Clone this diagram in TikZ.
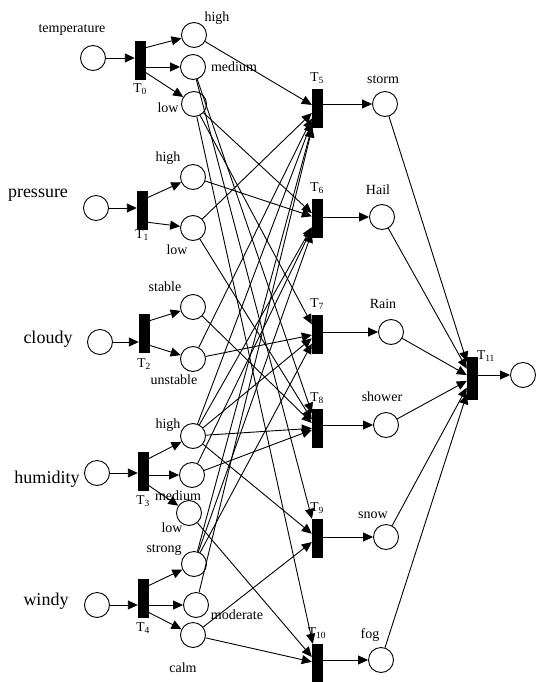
\documentclass[tikz,border=0pt]{standalone}
\usepackage{fontspec}
\setmainfont{Liberation Serif}
\usetikzlibrary{arrows.meta,positioning}
\tikzset{
  place/.style={draw,circle,minimum size=25pt,inner sep=0pt,line width=0.9pt},
  trans/.style={draw,fill=black,minimum width=10pt,minimum height=38pt,inner sep=0pt},
  lbl/.style={font=\fontsize{14}{15}\selectfont,inner sep=0pt},
  biglbl/.style={font=\fontsize{18}{20}\selectfont,inner sep=0pt},
  tlbl/.style={font=\fontsize{13.5}{14}\selectfont,inner sep=0pt},
  arc/.style={-{Triangle[length=10pt,width=9pt]},line width=0.9pt},
}

\begin{document}
\begin{tikzpicture}[x=1pt,y=-1pt]
    \useasboundingbox (0,0) rectangle (536,682);
    % input places and first transitions
    \node[place] (temp) at (93,58) {};
    \node[place] (pres) at (96,208) {};
    \node[place] (clou) at (100,342) {};
    \node[place] (humi) at (97,473) {};
    \node[place] (wind) at (97,605) {};
    \node[trans] (T0) at (140,60) {};
    \node[trans] (T1) at (142,210) {};
    \node[trans] (T2) at (144,333) {};
    \node[trans] (T3) at (143,471) {};
    \node[trans] (T4) at (143,598) {};
    % state places
    \node[place] (th) at (194,35) {};
    \node[place] (tm) at (193,67) {};
    \node[place] (tl) at (194,104) {};
    \node[place] (ph) at (193,177) {};
    \node[place] (pl) at (193,228) {};
    \node[place] (cs) at (193,307) {};
    \node[place] (cu) at (193,359) {};
    \node[place] (hh) at (193,436) {};
    \node[place] (hm) at (192,475) {};
    \node[place] (hl) at (189,513) {};
    \node[place] (ws) at (194,564) {};
    \node[place] (wm) at (196,605) {};
    \node[place] (wc) at (193,635) {};
    % weather transitions and places
    \node[trans] (T5) at (317,108) {};
    \node[trans] (T6) at (317,218) {};
    \node[trans] (T7) at (317,334) {};
    \node[trans] (T8) at (317,428) {};
    \node[trans] (T9) at (317,538) {};
    \node[trans] (T10) at (317,663) {};
    \node[place] (storm) at (385,104) {};
    \node[place] (hail) at (382,217) {};
    \node[place] (rain) at (391,332) {};
    \node[place] (shower) at (386,425) {};
    \node[place] (snow) at (386,537) {};
    \node[place] (fog) at (381,660) {};
    \node[trans,minimum height=42pt] (T11) at (472,378) {};
    \node[place] (out) at (523,375) {};

    % labels
    \node[lbl] (l-temp) at (72,30) {temperature};
    \node[biglbl] (l-pres) at (38,195) {pressure};
    \node[biglbl] (l-clou) at (48,339) {cloudy};
    \node[biglbl] (l-humi) at (47,479) {humidity};
    \node[biglbl] (l-wind) at (46,601) {windy};
    \node[lbl] (l-th) at (217,18) {high};
    \node[lbl] (l-tm) at (234,67) {medium};
    \node[lbl] (l-tl) at (168,108) {low};
    \node[lbl] (l-ph) at (168,158) {high};
    \node[lbl] (l-pl) at (177,250) {low};
    \node[lbl] (l-cs) at (165,287) {stable};
    \node[lbl] (l-cu) at (174,380) {unstable};
    \node[lbl] (l-hh) at (168,425) {high};
    \node[lbl] (l-hm) at (178,496) {medium};
    \node[lbl] (l-hl) at (172,528) {low};
    \node[lbl] (l-ws) at (164,550) {strong};
    \node[lbl] (l-wm) at (237,615) {moderate};
    \node[lbl] (l-wc) at (183,668) {calm};
    \node[lbl] (l-storm) at (383,80) {storm};
    \node[lbl] (l-hail) at (378,190) {Hail};
    \node[lbl] (l-rain) at (383,304) {Rain};
    \node[lbl] (l-shower) at (382,397) {shower};
    \node[lbl] (l-snow) at (373,515) {snow};
    \node[lbl] (l-fog) at (370,635) {fog};
    \node[tlbl,below=4pt of T0] (l-T0) {T\textsubscript{0}};
    \node[tlbl,below=0pt of T1] (l-T1) {T\textsubscript{1}};
    \node[tlbl,below=6pt of T2] (l-T2) {T\textsubscript{2}};
    \node[tlbl,below=5pt of T3] (l-T3) {T\textsubscript{3}};
    \node[tlbl,below=5pt of T4] (l-T4) {T\textsubscript{4}};
    \foreach \t in {5,...,10}
        \node[tlbl,above=5pt of T\t] (l-T\t) {T\textsubscript{\t}};
    \node[tlbl] (l-T11) at (486,356) {T\textsubscript{11}};

    % first level arcs
    \draw[arc] (temp) -- (T0.west |- temp);
    \draw[arc] (pres) -- (T1.west |- pres);
    \draw[arc] (clou) -- (T2.west |- clou);
    \draw[arc] (humi) -- (T3.west |- humi);
    \draw[arc] (wind) -- (T4.west |- wind);
    \draw[arc] ([yshift=-7pt]T0.north east) -- (th);
    \draw[arc] (T0.east |- tm) -- (tm);
    \draw[arc] ([yshift=7pt]T0.south east) -- (tl);
    \draw[arc] ([yshift=-7pt]T1.north east) -- (ph);
    \draw[arc] ([yshift=7pt]T1.south east) -- (pl);
    \draw[arc] ([yshift=-7pt]T2.north east) -- (cs);
    \draw[arc] ([yshift=7pt]T2.south east) -- (cu);
    \draw[arc] ([yshift=-7pt]T3.north east) -- (hh);
    \draw[arc] (T3.east |- hm) -- (hm);
    \draw[arc] ([yshift=5pt]T3.south east) -- (hl);
    \draw[arc] ([yshift=-7pt]T4.north east) -- (ws);
    \draw[arc] (T4.east |- wm) -- (wm);
    \draw[arc] ([yshift=5pt]T4.south east) -- (wc);

    % rule arcs
    \foreach \s/\t in {th/T5, pl/T5, cu/T5, hh/T5, ws/T5, wm/T5,
                       tl/T6, ph/T6, hh/T6, hm/T6, ws/T6,
                       tl/T7, cu/T7, hh/T7, ws/T7,
                       tm/T8, pl/T8, cs/T8, hh/T8, hm/T8,
                       tm/T9, hh/T9, wc/T9,
                       tl/T10, hl/T10, wc/T10}
        \draw[arc] (\s) -- (\t);
    \foreach \t/\p in {T5/storm, T6/hail, T7/rain, T8/shower, T9/snow, T10/fog}{
        \draw[arc] (\t.east |- \p) -- (\p);
        \draw[arc] (\p) -- (T11);
    }
    \draw[arc] (T11.east |- out) -- (out);
\end{tikzpicture}
\end{document}
